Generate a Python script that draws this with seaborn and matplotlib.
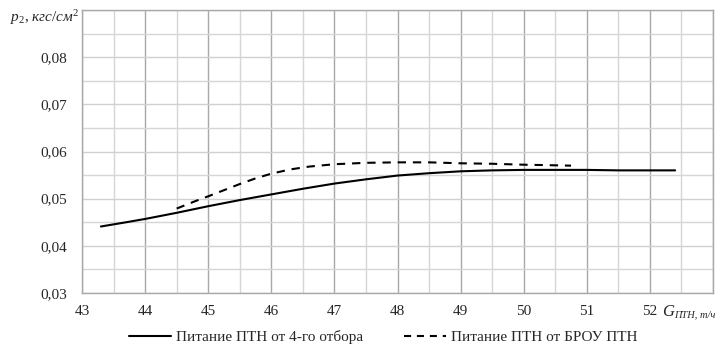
import matplotlib
matplotlib.use("Agg")
import matplotlib.pyplot as plt
import seaborn as sns
import pandas as pd
import numpy as np
from matplotlib.ticker import MultipleLocator, FuncFormatter
from matplotlib.lines import Line2D

# data
x_solid = [43.3, 43.7, 44.0, 44.5, 45.0, 45.5, 46.0, 46.5, 47.0, 47.5, 48.0, 48.5, 49.0, 49.5, 50.0, 50.5, 51.0, 51.5, 52.0, 52.4]
y_solid = [0.0441, 0.0450, 0.0457, 0.0470, 0.0484, 0.0497, 0.0509, 0.0521, 0.0532, 0.0541, 0.0549, 0.0554, 0.0558, 0.0560, 0.0561, 0.0561, 0.0561, 0.0560, 0.0560, 0.0560]
x_dash = [44.5, 44.8, 45.0, 45.25, 45.5, 45.75, 46.0, 46.3, 46.6, 47.0, 47.5, 48.0, 48.5, 49.0, 49.5, 50.0, 50.4, 50.75]
y_dash = [0.0479, 0.0495, 0.0505, 0.0518, 0.0531, 0.0543, 0.0553, 0.0562, 0.0568, 0.0573, 0.0576, 0.0577, 0.0577, 0.0575, 0.0574, 0.0572, 0.0571, 0.0570]
label_solid = "Питание ПТН от 4-го отбора"
label_dash = "Питание ПТН от БРОУ ПТН"

sns.set_style("white")
plt.rcParams["font.family"] = ["Liberation Serif", "DejaVu Serif"]
plt.rcParams["mathtext.fontset"] = "custom"
plt.rcParams["mathtext.rm"] = "Liberation Serif"
plt.rcParams["mathtext.it"] = "Liberation Serif:italic"

df = pd.concat([
    pd.DataFrame({"x": x_solid, "y": y_solid, "s": label_solid}),
    pd.DataFrame({"x": x_dash, "y": y_dash, "s": label_dash}),
])

fig = plt.figure(figsize=(7.16, 3.46), dpi=100)
ax = fig.add_axes([82/716, 1 - 293/346, (713-82)/716, (293-10)/346])

ax.set_xlim(43, 53)
ax.set_ylim(0.03, 0.09)
ax.xaxis.set_major_locator(MultipleLocator(1))
ax.xaxis.set_minor_locator(MultipleLocator(0.5))
ax.yaxis.set_major_locator(MultipleLocator(0.01))
ax.yaxis.set_minor_locator(MultipleLocator(0.005))
ax.grid(which="minor", color="#d6d6d6", lw=1.0)
ax.grid(which="major", axis="y", color="#d0d0d0", lw=1.0)
ax.grid(which="major", axis="x", color="#a8a8a8", lw=1.0)
ax.set_axisbelow(True)

sns.lineplot(data=df, x="x", y="y", hue="s", style="s",
             palette={label_solid: "black", label_dash: "black"},
             dashes={label_solid: "", label_dash: (4, 3.3)},
             linewidth=1.5, ax=ax, legend=False, sort=False, estimator=None)

for sp in ax.spines.values():
    sp.set_color("#a8a8a8")
    sp.set_linewidth(1.0)

ax.tick_params(axis="both", which="major", length=4, color="#a8a8a8", labelsize=11)
ax.tick_params(axis="x", which="major", pad=4.5)
ax.tick_params(axis="y", which="major", pad=7)
ax.tick_params(axis="both", which="minor", length=0)

def yfmt(v, pos):
    if v > 0.085:
        return ""
    return f"{v:.2f}".replace(".", ",")

def xfmt(v, pos):
    if v > 52.5:
        return ""
    return f"{int(round(v))}"

ax.yaxis.set_major_formatter(FuncFormatter(yfmt))
ax.xaxis.set_major_formatter(FuncFormatter(xfmt))
ax.set_xlabel("")
ax.set_ylabel("")

# axis titles
ax.text(-0.004, 0.975, r"$p_2$, $кгс/см^2$", transform=ax.transAxes, ha="right", va="center", fontsize=11)
fig.text(662/716, 1 - 312/346, "G", fontsize=12, style="italic", ha="left", va="center")
fig.text(674/716, 1 - 315/346, "ПТН, т/ч", fontsize=7.5, style="italic", ha="left", va="center")

handles = [Line2D([0], [0], color="black", lw=1.5),
           Line2D([0], [0], color="black", lw=1.5, dashes=(3.4, 2.8))]
fig.legend(handles, [label_solid, label_dash], loc="center", ncol=2,
           bbox_to_anchor=(0.535, 1 - 337/346), frameon=False, fontsize=11,
           handlelength=2.75, columnspacing=2.7, handletextpad=0.3)

fig.savefig("out.png", dpi=100)
